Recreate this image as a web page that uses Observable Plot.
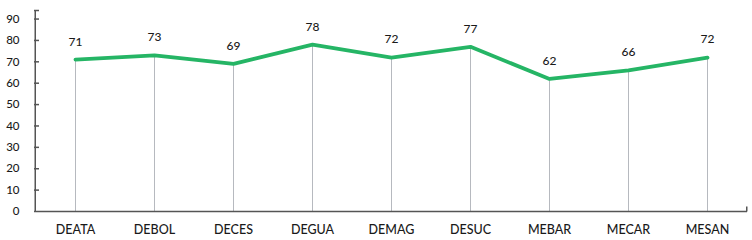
<!DOCTYPE html>
<html>
<head>
<meta charset="utf-8">
<script src="https://cdn.jsdelivr.net/npm/d3@7"></script>
<script src="https://cdn.jsdelivr.net/npm/@observablehq/plot@0.6"></script>
<style>
  html, body { margin: 0; padding: 0; background: #fff; }
  #chart svg { display: block; }
</style>
</head>
<body>
<div id="chart"></div>
<script>
const categories = ["DEATA", "DEBOL", "DECES", "DEGUA", "DEMAG", "DESUC", "MEBAR", "MECAR", "MESAN"];
const values = [71, 73, 69, 78, 72, 77, 62, 66, 72];
const yTicks = [0, 10, 20, 30, 40, 50, 60, 70, 80, 90];

const data = categories.map((c, i) => ({cat: c, value: values[i]}));

const W = 752, H = 240;
const mL = 34, mR = 5, mT = 10, mB = 29;
const fw = W - mL - mR, fh = H - mT - mB;
const axisColor = "#555";

const chart = Plot.plot({
  width: W,
  height: H,
  marginLeft: mL,
  marginRight: mR,
  marginTop: mT,
  marginBottom: mB,
  style: {fontFamily: "Lato, 'Open Sans', sans-serif", fontSize: "11px", color: "#1a1a1a", background: "#fff"},
  x: {type: "point", domain: categories, padding: 0.5, label: null},
  y: {domain: [0, 94], label: null},
  marks: [
    Plot.ruleX(data, {x: "cat", y1: 0, y2: "value", stroke: "#b6b9bf", strokeWidth: 1}),
    Plot.frame({fill: axisColor, stroke: "none", insetRight: fw - 1.5}),
    Plot.ruleY([0], {stroke: axisColor, strokeWidth: 1.5}),
    Plot.frame({fill: axisColor, stroke: "none", insetLeft: fw - 1.5, insetTop: fh - 5}),
    Plot.tickY([...yTicks.filter(d => d > 0), 94], {y: d => d, stroke: axisColor, strokeWidth: 1.5, insetRight: fw - 5}),
    Plot.axisY(yTicks, {tickSize: 0, tickPadding: 15, fontSize: 11.5, fontWeight: 500, fill: "#1a1a1a"}),
    Plot.axisX({tickSize: 0, tickPadding: 14, fontSize: 12.5, fontWeight: 500, fill: "#1a1a1a"}),
    Plot.line(data, {x: "cat", y: "value", stroke: "#25b565", strokeWidth: 3.8, strokeLinejoin: "round", strokeLinecap: "round"}),
    Plot.text(data, {x: "cat", y: "value", text: d => String(d.value), dy: -18, fontSize: 12, fontWeight: 500, fill: "#1a1a1a"})
  ]
});
document.getElementById("chart").appendChild(chart);
</script>
</body>
</html>
